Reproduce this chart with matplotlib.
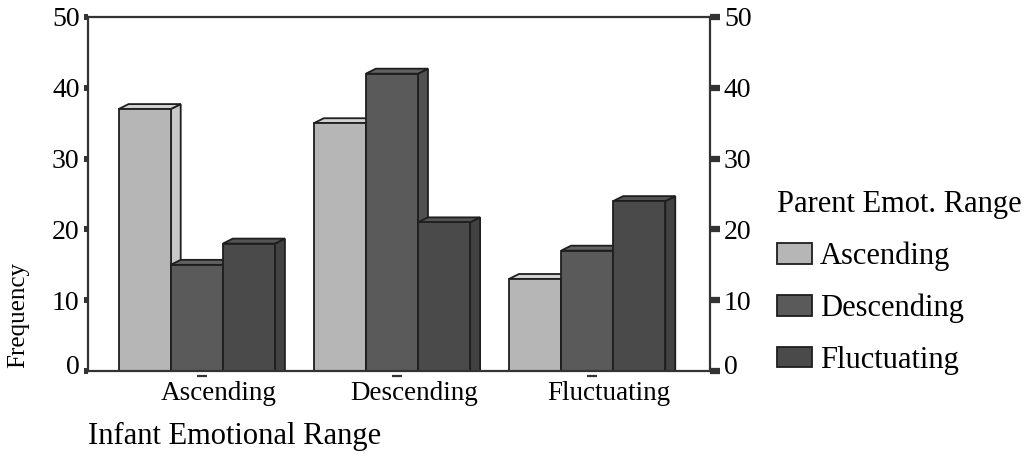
import matplotlib
matplotlib.use("Agg")
import matplotlib.pyplot as plt
from matplotlib.patches import Polygon, Patch
from matplotlib.transforms import ScaledTranslation
import numpy as np

# ---- data ----
categories = ["Ascending", "Descending", "Fluctuating"]
series_names = ["Ascending", "Descending", "Fluctuating"]
asc_values = [37, 35, 13]
desc_values = [15, 42, 17]
fluct_values = [18, 21, 24]
y_ticks = [0, 10, 20, 30, 40, 50]

# ---- style ----
front_colors = ["#b6b6b6", "#5a5a5a", "#4a4a4a"]
side_colors = ["#c8c8c8", "#505050", "#424242"]
top_colors = ["#d2d2d2", "#626262", "#545454"]
edge = "#1e1e1e"
spine_col = "#333333"
FONT = "Liberation Serif"

plt.rcParams["font.family"] = [FONT, "DejaVu Serif"]

W, H, DPI = 1028, 457, 100
fig = plt.figure(figsize=(W / DPI, H / DPI), dpi=DPI)
fig.patch.set_facecolor("white")

# axes position in pixels
L, R, T, B = 88, 710, 17, 371
ax = fig.add_axes([L / W, 1 - B / H, (R - L) / W, (B - T) / H])
ax.set_xlim(-0.583, 2.604)
ax.set_ylim(0, 50)

bw = 0.267      # bar front width (data units)
dx = 0.051      # depth in x
dy = 0.7        # depth in y

all_vals = [asc_values, desc_values, fluct_values]
x = np.arange(len(categories))
z = 2
for i in range(len(categories)):
    for j in range(len(series_names)):
        h = all_vals[j][i]
        cx = x[i] + (j - 1) * bw - dx / 2
        x0, x1 = cx - bw / 2, cx + bw / 2
        side = Polygon([(x1, 0), (x1 + dx, 0), (x1 + dx, h + dy), (x1, h)],
                       closed=True, facecolor=side_colors[j], edgecolor=edge,
                       lw=1.3, zorder=z, joinstyle="miter")
        top = Polygon([(x0, h), (x0 + dx, h + dy), (x1 + dx, h + dy), (x1, h)],
                      closed=True, facecolor=top_colors[j], edgecolor=edge,
                      lw=1.3, zorder=z, joinstyle="miter")
        ax.add_patch(side)
        ax.add_patch(top)
        ax.bar(cx, h, width=bw, color=front_colors[j], edgecolor=edge,
               linewidth=1.3, zorder=z + 0.5)
        z += 1

# spines
for s in ["left", "right", "top", "bottom"]:
    ax.spines[s].set_color(spine_col)
    ax.spines[s].set_linewidth(1.6)
    ax.spines[s].set_zorder(50)

TICK_FS = 20

# y ticks left
ax.set_yticks(y_ticks)
ax.set_yticklabels([str(v) for v in y_ticks])
ax.tick_params(axis="y", direction="out", length=3, width=4.3, color=spine_col,
               labelsize=TICK_FS, pad=3)

# right axis
ax2 = ax.twinx()
ax2.set_ylim(0, 50)
ax2.set_yticks(y_ticks)
ax2.set_yticklabels([str(v) for v in y_ticks])
ax2.tick_params(axis="y", direction="out", length=7, width=4.5, color=spine_col,
                labelsize=TICK_FS, pad=3)
for s in ["left", "right", "top", "bottom"]:
    ax2.spines[s].set_visible(False)

# raise zero labels
for a in (ax, ax2):
    lbls = a.get_yticklabels()
    lbls[0].set_transform(lbls[0].get_transform() +
                          ScaledTranslation(0, 7 / DPI, fig.dpi_scale_trans))

# x ticks
ax.set_xticks(x)
ax.set_xticklabels(categories)
ax.tick_params(axis="x", length=0, labelsize=19.5, pad=7)
for lbl in ax.get_xticklabels():
    lbl.set_transform(lbl.get_transform() +
                      ScaledTranslation(17 / DPI, 0, fig.dpi_scale_trans))
ax.plot(x, np.zeros(len(x)), linestyle="none", marker="_", markersize=7,
        markeredgewidth=1.6, color=spine_col, clip_on=False, zorder=60,
        transform=ax.transData + ScaledTranslation(0, -5 / DPI, fig.dpi_scale_trans))

# labels
ax.set_xlabel("Infant Emotional Range", fontsize=22, ha="left", va="center")
ax.xaxis.set_label_coords(0.0, -0.186)
ax.set_ylabel("Frequency", fontsize=18, va="center")
ax.yaxis.set_label_coords(-0.112, 0.158)

# legend
handles = [Patch(facecolor=front_colors[k], edgecolor=edge, linewidth=1.3)
           for k in range(3)]
leg = ax.legend(handles, series_names, title="Parent Emot. Range",
                loc="upper left", bbox_to_anchor=(777 / W, 1 - 190 / H),
                bbox_transform=fig.transFigure, frameon=False,
                fontsize=22, title_fontsize=22, borderpad=0,
                handlelength=1.15, handleheight=0.65, handletextpad=0.25,
                labelspacing=0.74, alignment="left", borderaxespad=0)

fig.savefig("out.png", dpi=DPI, facecolor="white")
